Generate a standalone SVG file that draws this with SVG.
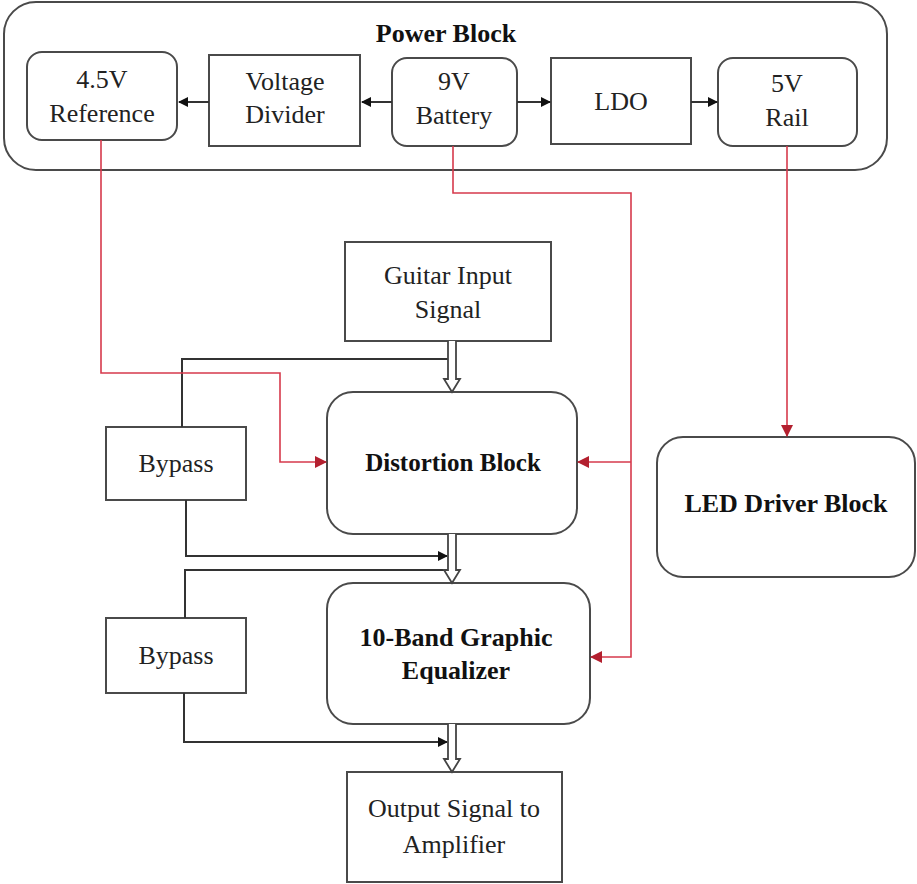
<svg xmlns="http://www.w3.org/2000/svg" width="917" height="884" viewBox="0 0 917 884">
<style>
.box{fill:#fff;stroke:#4a4a4a;stroke-width:2}
.b{font-weight:bold;fill:#111}
.k{fill:none;stroke:#333;stroke-width:2}
.r{fill:none;stroke:#d63a4c;stroke-width:1.6}
.h{fill:#fff;stroke:#444;stroke-width:1.8}
</style>
<defs>
<marker id="ak" markerWidth="10" markerHeight="10" refX="9" refY="5" orient="auto" markerUnits="userSpaceOnUse"><path d="M0,0 L10,5 L0,10 Z" fill="#111"/></marker>
<marker id="ar" markerWidth="12" markerHeight="12" refX="11" refY="6" orient="auto" markerUnits="userSpaceOnUse"><path d="M0,0 L12,6 L0,12 Z" fill="#b3202f"/></marker>
</defs>
<rect x="0" y="0" width="917" height="884" fill="#fff"/>

<g font-family="Liberation Serif, DejaVu Serif, serif" font-size="26" fill="#222" text-anchor="middle">
<g id="power-block">
<rect class="box" x="4" y="2" width="883" height="168" rx="32"/>
<text class="b" x="446" y="42">Power Block</text>
</g>
<g id="ref45">
<rect class="box" x="27" y="52" width="150" height="88" rx="15"/>
<text x="102" y="88">4.5V</text>
<text x="102" y="122">Reference</text>
</g>
<g id="divider">
<rect class="box" x="209" y="55" width="151" height="91"/>
<text x="285" y="90">Voltage</text>
<text x="285" y="123">Divider</text>
</g>
<g id="battery">
<rect class="box" x="392" y="58" width="125" height="88" rx="15"/>
<text x="454" y="90">9V</text>
<text x="454" y="124">Battery</text>
</g>
<g id="ldo">
<rect class="box" x="551" y="58" width="140" height="86"/>
<text x="621" y="110">LDO</text>
</g>
<g id="rail5">
<rect class="box" x="718" y="58" width="139" height="88" rx="15"/>
<text x="787" y="92">5V</text>
<text x="787" y="126">Rail</text>
</g>
<g id="guitar">
<rect class="box" x="345" y="242" width="206" height="99"/>
<text x="448" y="284">Guitar Input</text>
<text x="448" y="318">Signal</text>
</g>
<g id="distortion">
<rect class="box" x="327" y="392" width="250" height="142" rx="26"/>
<text class="b" x="453" y="471" font-size="25">Distortion Block</text>
</g>
<g id="bypass1">
<rect class="box" x="106" y="427" width="140" height="73"/>
<text x="176" y="472">Bypass</text>
</g>
<g id="equalizer">
<rect class="box" x="327" y="583" width="263" height="141" rx="26"/>
<text class="b" x="456" y="646">10-Band Graphic</text>
<text class="b" x="456" y="679">Equalizer</text>
</g>
<g id="bypass2">
<rect class="box" x="106" y="618" width="140" height="75"/>
<text x="176" y="664">Bypass</text>
</g>
<g id="led">
<rect class="box" x="657" y="437" width="258" height="140" rx="26"/>
<text class="b" x="786" y="512">LED Driver Block</text>
</g>
<g id="output">
<rect class="box" x="347" y="772" width="215" height="110"/>
<text x="454" y="817">Output Signal to</text>
<text x="454" y="853">Amplifier</text>
</g>
</g>

<g id="connectors">
<path class="k" d="M392,102 H362" marker-end="url(#ak)"/>
<path class="k" d="M209,102 H179" marker-end="url(#ak)"/>
<path class="k" d="M517,102 H550" marker-end="url(#ak)"/>
<path class="k" d="M691,102 H717" marker-end="url(#ak)"/>

<path class="k" d="M182,427 V359 H448"/>
<path class="k" d="M186,500 V556 H447" marker-end="url(#ak)"/>
<path class="k" d="M185,618 V570 H448"/>
<path class="k" d="M184,693 V742 H447" marker-end="url(#ak)"/>

<path class="h" d="M448,341 V379 H444 L452,392 L460,379 H456 V341"/>
<path class="h" d="M448,534 V570 H444 L452,583 L460,570 H456 V534"/>
<path class="h" d="M448,724 V759 H444 L452,772 L460,759 H456 V724"/>

<path class="r" d="M101,140 V373 H280 V462 H326" marker-end="url(#ar)"/>
<path class="r" d="M453,146 V193 H631 V657 H591" marker-end="url(#ar)"/>
<path class="r" d="M631,462 H578" marker-end="url(#ar)"/>
<path class="r" d="M787,146 V436" marker-end="url(#ar)"/>
</g>
</svg>
